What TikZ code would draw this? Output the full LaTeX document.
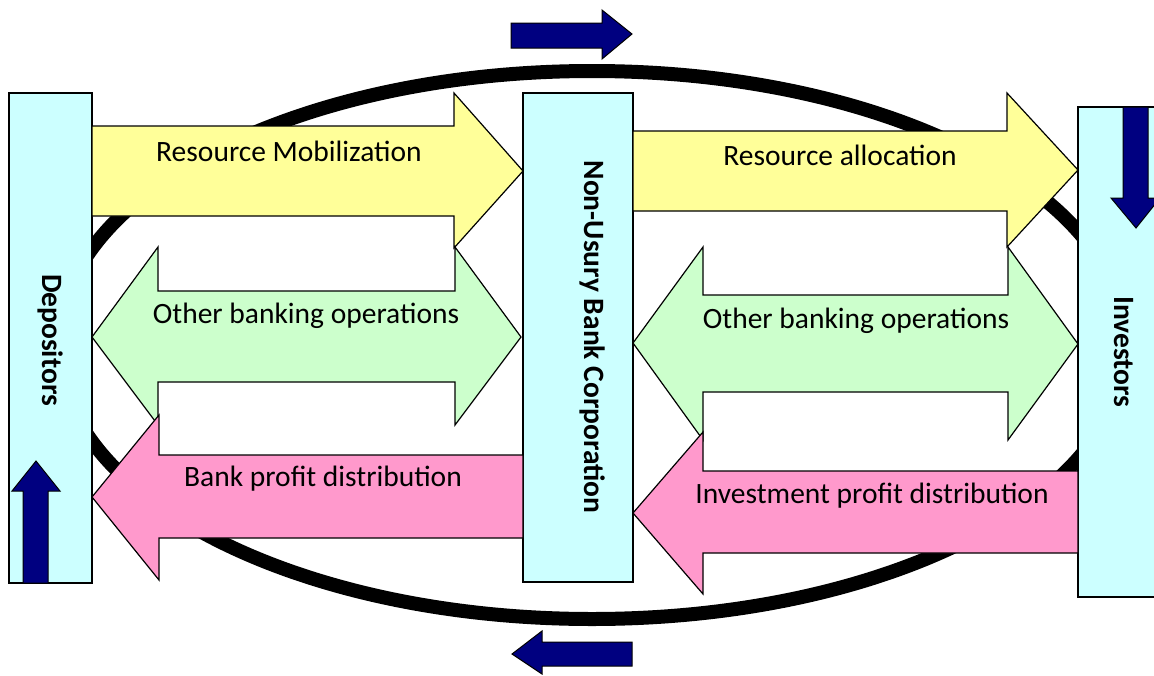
\documentclass[tikz,border=0pt]{standalone}
\usepackage{fontspec}
\setmainfont{Carlito}
\definecolor{boxc}{HTML}{CCFFFF}
\definecolor{yelc}{HTML}{FFFF99}
\definecolor{grnc}{HTML}{CCFFCC}
\definecolor{pnkc}{HTML}{FF99CC}
\definecolor{navc}{HTML}{000080}
\begin{document}
\begin{tikzpicture}[x=1pt,y=-1pt,
  colbox/.style={draw=black,fill=boxc,line width=1.2pt},
  bigarrow/.style={draw=black,line width=1.2pt,line join=miter},
  navarrow/.style={draw=black,fill=navc,line width=1pt,line join=miter},
  lbl/.style={font=\fontsize{29.5}{32}\selectfont,inner sep=0pt},
  blbl/.style={font=\fontsize{29.5}{32}\selectfont\bfseries,inner sep=0pt,rotate=-90}]
\useasboundingbox (0,0) rectangle (1154,675);
% ring
\draw[line width=14pt] (592,345) ellipse [x radius=534, y radius=274];
% columns
\path[colbox] (9,93) rectangle (92,583);
\path[colbox] (523,93) rectangle (633,582);
\path[colbox] (1078,107) rectangle (1170,597);
\node[blbl] (dep) at (51,340) {Depositors};
\node[blbl] (nub) at (593,337) {Non-Usury Bank Corporation};
\node[blbl] (inv) at (1124,352) {Investors};
% yellow arrows
\path[bigarrow,fill=yelc] (92,126)--(454,126)--(454,93)--(523,171)--(454,248)--(454,216)--(92,216)--cycle;
\path[bigarrow,fill=yelc] (633,131)--(1007,131)--(1007,93)--(1078,170)--(1007,247)--(1007,211)--(633,211)--cycle;
% green double arrows
\path[bigarrow,fill=grnc] (92,337)--(158,247)--(158,291)--(455,291)--(455,247)--(521,337)--(455,425)--(455,382)--(158,382)--(158,425)--cycle;
\path[bigarrow,fill=grnc] (633,343)--(703,247)--(703,295)--(1008,295)--(1008,247)--(1078,344)--(1008,440)--(1008,392)--(703,392)--(703,440)--cycle;
% pink arrows
\path[bigarrow,fill=pnkc] (523,455)--(159,455)--(159,415)--(92,497)--(159,580)--(159,538)--(523,538)--cycle;
\path[bigarrow,fill=pnkc] (1078,471)--(703,471)--(703,432)--(633,513)--(703,594)--(703,553)--(1078,553)--cycle;
% labels
\node[lbl] (rm) at (289,151) {Resource Mobilization};
\node[lbl] (ra) at (840,155) {Resource allocation};
\node[lbl] (ob1) at (306,316) {Other banking operations};
\node[lbl] (ob2) at (856,321) {Other banking operations};
\node[lbl] (bpd) at (323,479) {Bank profit distribution};
\node[lbl] (ipd) at (872,496) {Investment profit distribution};
% navy arrows
\path[navarrow] (511,23)--(602,23)--(602,10)--(632,34)--(602,59)--(602,48)--(511,48)--cycle;
\path[navarrow] (632,642)--(542,642)--(542,631)--(512,654)--(542,674)--(542,666)--(632,666)--cycle;
\path[navarrow] (1123,107)--(1148,107)--(1148,198)--(1160,198)--(1136,228)--(1111,198)--(1123,198)--cycle;
\path[navarrow] (23,583)--(23,491)--(12,491)--(36,461)--(60,491)--(48,491)--(48,583)--cycle;
\end{tikzpicture}
\end{document}
